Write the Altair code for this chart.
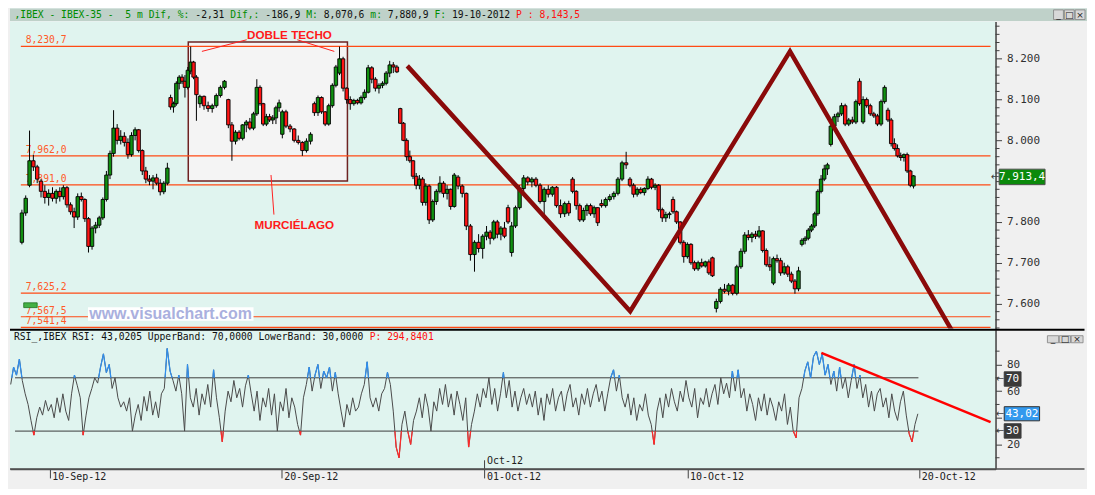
import altair as alt
import pandas as pd

# ---------------- data ----------------
DAY_INDEX = list(range(-1, 30))          # trading-day index (0 = 10-Sep-12)
BARS_PER_DAY = [9, 8, 8, 8, 8, 10, 7, 8, 9, 7, 8, 8, 8, 9, 8, 7, 8, 7, 7, 8, 7, 8, 8, 8, 7, 8, 8, 9, 8, 8, 9]
FIRST_SESSION_START = -1.2               # the first (partial) session shown starts a bit before day -1

OPEN = [7750, 7822, 7890, 7950, 7935, 7900, 7875, 7860, 7870, 7858,
        7875, 7862, 7884, 7842, 7825, 7812, 7862, 7855, 7808, 7740,
        7785, 7792, 7810, 7855, 7915, 7968, 8030, 8000, 8010, 7995,
        7965, 8012, 8026, 7975, 7925, 7905, 7900, 7908, 7895, 7874,
        7895, 8105, 8082, 8090, 8140, 8155, 8145, 8130, 8170, 8192,
        8155, 8090, 8108, 8085, 8078, 8085, 8110, 8130, 8100, 8038,
        7998, 8020, 8005, 8038, 8045, 8030, 8065, 8130, 8090, 8040,
        8058, 8050, 8055, 8080, 8015, 8070, 8035, 8028, 8000, 7995,
        7975, 7998, 8090, 8068, 8105, 8070, 8040, 8085, 8135, 8165,
        8200, 8128, 8100, 8090, 8098, 8092, 8105, 8118, 8178, 8150,
        8128, 8135, 8140, 8165, 8185, 8180, 8078, 8042, 8000, 7960,
        7950, 7912, 7890, 7905, 7848, 7888, 7805, 7850, 7875, 7895,
        7870, 7880, 7838, 7910, 7888, 7870, 7790, 7720, 7750, 7735,
        7765, 7775, 7760, 7800, 7770, 7785, 7835, 7725, 7790, 7835,
        7882, 7908, 7898, 7905, 7890, 7850, 7880, 7868, 7885, 7840,
        7820, 7845, 7905, 7875, 7840, 7805, 7828, 7840, 7820, 7835,
        7845, 7840, 7855, 7862, 7870, 7905, 7945, 7905, 7890, 7868,
        7880, 7872, 7882, 7905, 7885, 7890, 7830, 7810, 7818, 7855,
        7825, 7800, 7750, 7715, 7745, 7700, 7685, 7700, 7692, 7702,
        7712, 7588, 7605, 7635, 7630, 7645, 7625, 7690, 7728, 7768,
        7762, 7770, 7765, 7778, 7730, 7695, 7650, 7710, 7705, 7675,
        7690, 7672, 7655, 7636, 7745, 7755, 7760, 7780, 7790, 7820,
        7875, 7905, 7930, 7990, 8035, 8058, 8065, 8085, 8040, 8050,
        8045, 8145, 8045, 8100, 8085, 8065, 8060, 8040, 8095, 8074,
        8050, 7992, 7980, 7962, 7958, 7965, 7925, 7888]
HIGH = [7830, 7865, 8024, 7965, 7940, 7905, 7890, 7880, 7885, 7880,
        7885, 7890, 7888, 7848, 7835, 7870, 7872, 7858, 7812, 7790,
        7800, 7815, 7860, 7925, 7975, 8074, 8040, 8025, 8020, 8005,
        8020, 8032, 8028, 7978, 7935, 7915, 7915, 7918, 7905, 7900,
        7945, 8112, 8095, 8145, 8160, 8162, 8160, 8180, 8230, 8195,
        8160, 8112, 8110, 8095, 8090, 8115, 8135, 8148, 8102, 8045,
        8025, 8025, 8040, 8050, 8055, 8070, 8150, 8135, 8092, 8065,
        8065, 8062, 8085, 8100, 8075, 8075, 8040, 8030, 8012, 7998,
        8005, 8020, 8095, 8110, 8108, 8072, 8090, 8140, 8185, 8230,
        8205, 8130, 8108, 8102, 8102, 8110, 8125, 8185, 8182, 8155,
        8140, 8145, 8170, 8195, 8192, 8185, 8080, 8045, 8005, 7975,
        7952, 7920, 7915, 7910, 7895, 7892, 7855, 7880, 7912, 7900,
        7890, 7882, 7920, 7915, 7892, 7872, 7795, 7755, 7770, 7770,
        7790, 7780, 7805, 7805, 7790, 7800, 7842, 7800, 7840, 7890,
        7915, 7912, 7910, 7910, 7895, 7885, 7890, 7888, 7888, 7855,
        7850, 7852, 7910, 7878, 7845, 7835, 7845, 7845, 7840, 7836,
        7855, 7860, 7868, 7875, 7910, 7950, 7972, 7910, 7895, 7885,
        7885, 7885, 7912, 7908, 7895, 7893, 7835, 7825, 7825, 7862,
        7828, 7802, 7755, 7750, 7748, 7705, 7705, 7710, 7705, 7708,
        7715, 7612, 7640, 7648, 7650, 7648, 7695, 7735, 7775, 7780,
        7775, 7778, 7790, 7780, 7735, 7715, 7715, 7720, 7712, 7700,
        7695, 7678, 7660, 7690, 7760, 7765, 7785, 7795, 7825, 7880,
        7915, 7940, 7945, 8040, 8065, 8070, 8092, 8090, 8055, 8058,
        8100, 8152, 8108, 8105, 8090, 8070, 8065, 8100, 8135, 8080,
        8055, 8005, 7990, 7970, 7968, 7970, 7928, 7915]
LOW = [7745, 7815, 7885, 7925, 7895, 7860, 7845, 7840, 7850, 7845,
       7850, 7855, 7835, 7818, 7785, 7805, 7850, 7800, 7725, 7732,
       7772, 7785, 7805, 7850, 7905, 7960, 7990, 7990, 7985, 7955,
       7960, 8000, 7970, 7915, 7895, 7890, 7880, 7890, 7865, 7868,
       7890, 8075, 8068, 8085, 8125, 8138, 8105, 8125, 8162, 8150,
       8048, 8080, 8075, 8070, 8068, 8080, 8105, 8125, 8030, 7950,
       7990, 8000, 8000, 8020, 8025, 8025, 8060, 8085, 8035, 8035,
       8045, 8040, 8040, 8070, 8005, 8030, 8020, 7995, 7990, 7962,
       7970, 7990, 8060, 8060, 8065, 8035, 8036, 8080, 8130, 8160,
       8120, 8090, 8075, 8085, 8088, 8088, 8100, 8115, 8140, 8120,
       8115, 8128, 8135, 8155, 8165, 8165, 8040, 7998, 7950, 7945,
       7905, 7880, 7880, 7840, 7840, 7795, 7800, 7842, 7870, 7860,
       7855, 7830, 7835, 7880, 7860, 7780, 7705, 7678, 7725, 7710,
       7755, 7745, 7755, 7760, 7755, 7760, 7795, 7715, 7785, 7830,
       7875, 7890, 7885, 7885, 7845, 7815, 7860, 7862, 7835, 7810,
       7812, 7815, 7870, 7830, 7800, 7800, 7815, 7815, 7810, 7790,
       7835, 7835, 7850, 7855, 7865, 7900, 7930, 7885, 7860, 7862,
       7868, 7865, 7878, 7880, 7878, 7825, 7800, 7800, 7808, 7820,
       7795, 7745, 7700, 7710, 7695, 7680, 7680, 7688, 7688, 7670,
       7665, 7578, 7600, 7625, 7620, 7620, 7620, 7685, 7722, 7755,
       7750, 7758, 7760, 7725, 7690, 7680, 7645, 7700, 7668, 7670,
       7665, 7650, 7624, 7630, 7740, 7745, 7755, 7775, 7785, 7815,
       7870, 7900, 7915, 7985, 8028, 8045, 8060, 8035, 8035, 8040,
       8040, 8085, 8040, 8080, 8060, 8055, 8035, 8035, 8090, 8045,
       7985, 7975, 7958, 7950, 7948, 7920, 7885, 7882]
CLOSE = [7822, 7858, 7950, 7935, 7905, 7875, 7860, 7870, 7858, 7875,
         7862, 7884, 7842, 7825, 7812, 7862, 7855, 7808, 7740, 7785,
         7792, 7810, 7855, 7915, 7968, 8030, 8000, 8010, 7995, 7965,
         8012, 8026, 7975, 7925, 7905, 7900, 7908, 7895, 7874, 7895,
         7932, 8082, 8090, 8140, 8155, 8145, 8130, 8172, 8192, 8155,
         8112, 8108, 8085, 8078, 8085, 8110, 8130, 8145, 8038, 7998,
         8020, 8005, 8038, 8045, 8030, 8065, 8130, 8090, 8040, 8058,
         8050, 8055, 8080, 8092, 8070, 8035, 8028, 8000, 7995, 7975,
         7998, 8015, 8068, 8105, 8070, 8040, 8085, 8135, 8180, 8200,
         8128, 8100, 8090, 8098, 8092, 8105, 8118, 8178, 8150, 8128,
         8135, 8140, 8165, 8185, 8180, 8168, 8042, 8000, 7960, 7950,
         7912, 7890, 7905, 7848, 7888, 7805, 7850, 7875, 7895, 7870,
         7880, 7838, 7915, 7888, 7870, 7790, 7720, 7750, 7735, 7765,
         7775, 7760, 7800, 7770, 7785, 7765, 7800, 7790, 7835, 7882,
         7908, 7898, 7905, 7890, 7850, 7880, 7868, 7885, 7840, 7820,
         7845, 7822, 7875, 7840, 7805, 7828, 7840, 7820, 7835, 7798,
         7840, 7855, 7862, 7870, 7905, 7945, 7940, 7890, 7868, 7880,
         7872, 7882, 7905, 7885, 7890, 7830, 7810, 7818, 7820, 7825,
         7800, 7750, 7715, 7745, 7700, 7685, 7700, 7692, 7702, 7675,
         7668, 7605, 7635, 7630, 7645, 7625, 7690, 7728, 7768, 7762,
         7770, 7765, 7778, 7730, 7695, 7690, 7710, 7705, 7675, 7690,
         7672, 7655, 7636, 7680, 7755, 7760, 7780, 7790, 7820, 7875,
         7905, 7930, 7940, 8035, 8058, 8065, 8085, 8040, 8050, 8045,
         8095, 8090, 8100, 8085, 8065, 8060, 8040, 8095, 8130, 8050,
         7992, 7980, 7962, 7958, 7965, 7925, 7890, 7913]

# RSI(5 m), one value every 0.1 trading day starting at day -1.35
RSI_START_DAY = -1.35
RSI_STEP_DAY = 0.1
RSI = [65, 78, 72, 84, 68, 58, 50, 38, 27, 40,
       48, 42, 53, 45, 50, 40, 55, 44, 58, 45,
       38, 58, 72, 64, 55, 27, 42, 55, 62, 70,
       66, 78, 88, 74, 80, 62, 70, 55, 48, 52,
       45, 55, 30, 42, 50, 38, 56, 45, 60, 42,
       52, 40, 58, 62, 92, 75, 68, 60, 72, 58,
       30, 80, 55, 48, 62, 42, 58, 50, 65, 48,
       76, 55, 40, 22, 45, 60, 52, 68, 55, 62,
       48, 64, 72, 58, 45, 60, 38, 55, 48, 62,
       42, 58, 30, 52, 45, 62, 40, 55, 48, 35,
       27, 55, 65, 78, 60, 72, 80, 62, 75, 70,
       78, 60, 74, 58, 45, 33, 50, 42, 55, 45,
       48, 58, 65, 82, 55, 48, 55, 45, 58, 62,
       74, 65, 45, 18, 10, 35, 45, 30, 20, 38,
       45, 55, 40, 58, 48, 30, 52, 45, 62, 50,
       65, 48, 58, 42, 60, 50, 38, 55, 18, 35,
       45, 58, 48, 62, 55, 70, 50, 62, 45, 58,
       74, 55, 68, 48, 60, 45, 55, 62, 50, 58,
       48, 60, 42, 55, 38, 58, 50, 62, 45, 55,
       60, 45, 58, 65, 48, 55, 42, 58, 50, 62,
       48, 58, 65, 52, 60, 45, 58, 70, 76, 60,
       72, 55, 48, 58, 42, 55, 38, 50, 45, 58,
       42, 35, 20, 45, 55, 40, 58, 48, 62, 52,
       45, 60, 52, 68, 55, 48, 62, 40, 55, 50,
       62, 48, 58, 65, 50, 70, 58, 66, 55, 75,
       60, 76, 55, 62, 45, 58, 50, 38, 55, 45,
       58, 42, 55, 48, 38, 52, 45, 58, 35, 48,
       30, 25, 55, 62, 75, 82, 70, 86, 90, 80,
       88, 72, 80, 65, 75, 60, 78, 62, 70, 55,
       68, 80, 62, 72, 55, 65, 48, 60, 45, 58,
       62, 48, 55, 40, 58, 45, 38, 52, 60, 42,
       28, 22, 35, 43]

LEVELS = [8230.7, 7962.0, 7891.0, 7625.2, 7567.5, 7541.4]
LEVEL_TEXT = ["8,230,7", "7,962,0", "7,891,0", "7,625,2", "7,567,5", "7,541,4"]
PRICE_TICKS = [7600, 7700, 7800, 7900, 8000, 8100, 8200]
PRICE_MINOR = [v for v in range(7540, 8300, 20) if v % 100]
RSI_TICKS = [0, 20, 40, 60, 80]
RSI_MINOR = [10, 30, 50, 70, 90]
TICK_DAYS = [0, 8, 15, 22, 30]
TICK_LABELS = ["10-Sep-12", "20-Sep-12", "01-Oct-12", "10-Oct-12", "20-Oct-12"]
MONTH_DAY = 15
MONTH_TEXT = "Oct-12"
ZIGZAG_T = [12.30, 20.07, 25.64, 31.71]
ZIGZAG_P = [8182.7, 7581.1, 8218.2, 7481.9]
RSI_TREND_T = [26.62, 32.46]
RSI_TREND_V = [88.7, 36.7]
RSI_BANDS = [70, 30]
LAST_PRICE, LAST_PRICE_TEXT = 7913.4, "7.913,4"
LAST_RSI, LAST_RSI_TEXT = 43.02, "43,02"
HEAD_TEXT = ",IBEX - IBEX-35 -  5 m Dif, %: -2,31 Dif,: -186,9 M: 8,070,6 m: 7,880,9 F: 19-10-2012 P : 8,143,5"
RSI_HEAD_BLACK = "RSI_,IBEX RSI: 43,0205 UpperBand: 70,0000 LowerBand: 30,0000"
RSI_HEAD_RED = "P: 294,8401"

# ---------------- layout ----------------
SX = 1079 / 1095
SY = 479 / 495
W_PLOT = 1002 * SX
W_AXIS = 1079 - W_PLOT
H_HEAD = 13 * SY
H_TOP = 318 * SY
H_RSI = 144 * SY
H_XAX = 479 - H_HEAD - H_TOP - H_RSI

X_DOM = [-1.374, 32.63]
P_DOM = [7538.5, 8291.7]
R_DOM = [1.6, 106.0]
X_FAR = 35.7
MONO = "DejaVu Sans Mono"
FS = 9.7
GREEN, RED, BLACK = "#008c00", "#ff1010", "#101010"

T = []
for d, n in zip(DAY_INDEX, BARS_PER_DAY):
    start, span = (FIRST_SESSION_START, d + 1 - FIRST_SESSION_START) if d == DAY_INDEX[0] else (d, 1.0)
    for k in range(n):
        T.append(start + (k + 0.5) / n * span)

cdf = pd.DataFrame({"t": T, "o": OPEN, "h": HIGH, "l": LOW, "c": CLOSE})
cdf["h"] = cdf[["h", "o", "c"]].max(axis=1)
cdf["l"] = cdf[["l", "o", "c"]].min(axis=1)
cdf["col"] = ["#109010" if c >= o else "#ff1414" for o, c in zip(cdf.o, cdf.c)]

xs = alt.Scale(domain=X_DOM, nice=False, zero=False)
ps = alt.Scale(domain=P_DOM, nice=False, zero=False)
rs = alt.Scale(domain=R_DOM, nice=False, zero=False)


def xq(f, axis=None):
    return alt.X(f + ":Q", scale=xs, axis=axis)


def xr(f, axis=alt.Undefined):
    return alt.X(f + ":Q", scale=xs, axis=axis)


def pq(f, axis=alt.Undefined):
    return alt.Y(f + ":Q", scale=ps, axis=axis)


def rq(f, axis=alt.Undefined):
    return alt.Y(f + ":Q", scale=rs, axis=axis)


p_axis = alt.Axis(
    orient="right", title=None, values=PRICE_TICKS, grid=False,
    labelExpr="datum.value != 7900 ? replace(format(datum.value, ','), ',', '.') : ''",
    tickSize=6, tickColor="#404040", domainColor="#404040", domainWidth=1.5,
    labelFont=MONO, labelFontSize=11, labelColor="#303030", labelPadding=5,
    labelOverlap=False, labelFlush=False, labelBound=False, minExtent=W_AXIS, maxExtent=W_AXIS)

r_axis = alt.Axis(
    orient="right", title=None, values=RSI_TICKS, grid=False,
    labelExpr="datum.value != 40 ? '' + datum.value : ''",
    tickSize=6, tickColor="#404040", domainColor="#404040", domainWidth=1.5,
    labelFont=MONO, labelFontSize=11, labelColor="#303030", labelPadding=5,
    labelOverlap=False, labelFlush=False, labelBound=False, minExtent=W_AXIS, maxExtent=W_AXIS)

expr = "''"
for d, lab in reversed(list(zip(TICK_DAYS, TICK_LABELS))):
    expr = f"datum.value === {d} ? '{lab}' : ({expr})"
x_axis = alt.Axis(
    orient="bottom", title=None, values=TICK_DAYS, labelExpr=expr, grid=False,
    labelAlign="left", labelOffset=2, labelPadding=-6, tickSize=9,
    tickColor="#404040", domainColor="#505050", domainWidth=1.5,
    labelFont=MONO, labelFontSize=10, labelColor="#202020",
    labelOverlap=False, labelFlush=False, minExtent=H_XAX, maxExtent=H_XAX)

# ---------------- header panel ----------------
hx = alt.Scale(domain=[0, 1095], nice=False, zero=False)
hy = alt.Scale(domain=[0, 13], reverse=True, nice=False, zero=False)
runs = [(",IBEX - IBEX-35 -", GREEN), ("5 m Dif, %:", GREEN), ("-2,31", BLACK), ("Dif,:", GREEN),
        ("-186,9", BLACK), ("M:", GREEN), ("8,070,6", BLACK), ("m:", GREEN), ("7,880,9", BLACK),
        ("F:", GREEN), ("19-10-2012", BLACK), ("P : 8,143,5", RED)]
pos, rows = 0, []
for txt, col in runs:
    i = HEAD_TEXT.find(txt, pos)
    rows.append({"x": 4.6 + i * 5.93, "y": 6.8, "txt": txt, "col": col})
    pos = i + len(txt)
head_txt_df = pd.DataFrame(rows)
head_bg = alt.Chart(pd.DataFrame({"x": [0], "x2": [1095], "y": [0], "y2": [13]})).mark_rect(
    fill="#bfd1c9").encode(x=alt.X("x:Q", scale=hx, axis=None), x2="x2",
                           y=alt.Y("y:Q", scale=hy, axis=None), y2="y2")
head_txt = alt.Chart(head_txt_df).mark_text(align="left", baseline="middle", font=MONO, fontSize=FS).encode(
    x=alt.X("x:Q", scale=hx, axis=None), y=alt.Y("y:Q", scale=hy, axis=None), text="txt:N",
    color=alt.Color("col:N", scale=None))
btn_df = pd.DataFrame({"x": [1061, 1072, 1083], "x2": [1071, 1082, 1093], "y": [1.5] * 3, "y2": [11.5] * 3,
                       "xc": [1066, 1077, 1088], "yc": [6.5] * 3, "g": ["_", "□", "×"]})
head_btn = alt.Chart(btn_df).mark_rect(fill="#d8d8d8", stroke="#808080", strokeWidth=0.8).encode(
    x=alt.X("x:Q", scale=hx, axis=None), x2="x2", y=alt.Y("y:Q", scale=hy, axis=None), y2="y2")
head_btn_t = alt.Chart(btn_df).mark_text(fontSize=9, font="DejaVu Sans", color="#202020").encode(
    x=alt.X("xc:Q", scale=hx, axis=None), y=alt.Y("yc:Q", scale=hy, axis=None), text="g:N")
header = alt.layer(head_bg, head_txt, head_btn, head_btn_t).properties(width=1079, height=H_HEAD)

# ---------------- price panel ----------------
box = alt.Chart(pd.DataFrame({"t": [4.666], "t2": [10.214], "p": [8241.2], "p2": [7900.1]})).mark_rect(
    fill="#f4f4f4", stroke="#6e2222", strokeWidth=1.5).encode(x=xq("t"), x2="t2", y=pq("p", p_axis), y2="p2")
pminor = alt.Chart(pd.DataFrame({"p": PRICE_MINOR})).mark_rule(color="#404040", strokeWidth=1).encode(
    x=alt.value(W_PLOT), x2=alt.value(W_PLOT + 4), y=pq("p"))
lev_df = pd.DataFrame({"p": LEVELS, "lab": LEVEL_TEXT, "t": -1.17, "t2": X_DOM[1], "tl": -1.0})
lev = alt.Chart(lev_df).mark_rule(color="#ff4a14", strokeWidth=1.2).encode(x=xq("t"), x2="t2", y=pq("p"))
lev_txt = alt.Chart(lev_df).mark_text(align="left", baseline="bottom", dy=-1, font=MONO, fontSize=FS,
                                      color="#ff5a28").encode(x=xq("tl"), y=pq("p"), text="lab:N")
wm_df = pd.DataFrame({"t": [1.17], "t2": [6.94], "p": [7590.6], "p2": [7557.4], "tc": [4.05], "pc": [7574.0],
                      "txt": ["www.visualchart.com"]})
wm_bg = alt.Chart(wm_df).mark_rect(fill="white").encode(x=xq("t"), x2="t2", y=pq("p"), y2="p2")
wm_txt = alt.Chart(wm_df).mark_text(font="Liberation Sans", fontWeight="bold", fontSize=16, color="#aab0de").encode(
    x=xq("tc"), y=pq("pc"), text="txt:N")
grn = alt.Chart(pd.DataFrame({"t": [-1.07], "t2": [-0.60], "p": [7601.7], "p2": [7589.9]})).mark_rect(
    fill="#44b044", stroke="#207020", strokeWidth=0.8).encode(x=xq("t"), x2="t2", y=pq("p"), y2="p2")
ann_df = pd.DataFrame({"t": [5.141, 8.466, 7.550], "t2": [6.702, 9.756, 7.652],
                       "p": [8218.2, 8246.7, 7915.1], "p2": [8246.7, 8218.2, 7818.0]})
ann = alt.Chart(ann_df).mark_rule(color="#ff2020", strokeWidth=1).encode(x=xq("t"), x2="t2", y=pq("p"), y2="p2")
ann_txt = alt.Chart(pd.DataFrame({"t": [8.195, 8.364], "p": [8257.3, 7791.9],
                                  "txt": ["DOBLE TECHO", "MURCIÉLAGO"]})).mark_text(
    font="Liberation Sans", fontWeight="bold", fontSize=11.7, color="#ff1a1a").encode(
    x=xq("t"), y=pq("p"), text="txt:N")
wick = alt.Chart(cdf).mark_rule(color="black", strokeWidth=1).encode(x=xq("t"), y=pq("l"), y2="h")
body = alt.Chart(cdf).mark_bar(width=3.4, stroke="black", strokeWidth=0.9).encode(
    x=xq("t"), y=pq("o"), y2="c", color=alt.Color("col:N", scale=None))
zz = alt.Chart(pd.DataFrame({"t": ZIGZAG_T, "p": ZIGZAG_P, "o": range(len(ZIGZAG_T))})).mark_line(
    color="#8a0a0a", strokeWidth=4.5, clip=True).encode(x=xq("t"), y=pq("p"), order="o:Q")
lp_df = pd.DataFrame({"t": [32.93], "t2": [34.53], "p": [LAST_PRICE + 16], "p2": [LAST_PRICE - 22],
                      "tc": [33.73], "pc": [LAST_PRICE - 3], "ta": [32.78], "txt": [LAST_PRICE_TEXT]})
lp_box = alt.Chart(lp_df).mark_rect(fill="#0b8a0b", stroke="#505050", strokeWidth=1).encode(
    x=xq("t"), x2="t2", y=pq("p"), y2="p2")
lp_txt = alt.Chart(lp_df).mark_text(font=MONO, fontSize=11, color="white").encode(
    x=xq("tc"), y=pq("pc"), text="txt:N")
lp_arr = alt.Chart(lp_df).mark_text(font="DejaVu Sans", fontSize=10, color="#404040").encode(
    x=xq("ta"), y=pq("pc"), text=alt.value("←"))
price = alt.layer(box, pminor, lev, lev_txt, wm_bg, wm_txt, grn, ann, ann_txt, wick, body, zz,
                  lp_box, lp_txt, lp_arr).properties(width=W_PLOT, height=H_TOP)

# ---------------- RSI panel ----------------
RT = [RSI_START_DAY + i * RSI_STEP_DAY for i in range(len(RSI))]
rdf = pd.DataFrame({"t": RT, "v": RSI})
segs = []
for i in range(len(RT) - 1):
    t1, v1, t2, v2 = RT[i], RSI[i], RT[i + 1], RSI[i + 1]
    for thr, col, up in [(70, "#2f8ff0", True), (30, "#ff2a2a", False)]:
        a1 = v1 > thr if up else v1 < thr
        a2 = v2 > thr if up else v2 < thr
        if not (a1 or a2):
            continue
        if a1 and a2:
            segs.append((t1, v1, t2, v2, col))
        else:
            tc = t1 + (thr - v1) / (v2 - v1) * (t2 - t1)
            segs.append((t1, v1, tc, thr, col) if a1 else (tc, thr, t2, v2, col))
sdf = pd.DataFrame(segs, columns=["t", "v", "t2", "v2", "col"])

rhead = alt.Chart(pd.DataFrame({"t": [-1.239, 11.036], "v": [100.6, 100.6],
                                "txt": [RSI_HEAD_BLACK, RSI_HEAD_RED],
                                "col": [BLACK, RED]})).mark_text(
    align="left", baseline="middle", font=MONO, fontSize=FS).encode(
    x=xr("t"), y=rq("v"), text="txt:N", color=alt.Color("col:N", scale=None))
rminor = alt.Chart(pd.DataFrame({"v": RSI_MINOR})).mark_rule(color="#404040", strokeWidth=1).encode(
    x=alt.value(W_PLOT), x2=alt.value(W_PLOT + 4), y=rq("v"))
bands = alt.Chart(pd.DataFrame({"v": RSI_BANDS, "t": -1.2, "t2": RT[-1] + 0.02})).mark_rule(
    color="#3c3c3c", strokeWidth=1).encode(x=xr("t"), x2="t2", y=rq("v"))
rline = alt.Chart(rdf).mark_line(color="#4a4a4a", strokeWidth=1).encode(
    x=xr("t", x_axis), y=rq("v", r_axis))
rseg = alt.Chart(sdf).mark_rule(strokeWidth=1.2).encode(
    x=xr("t"), x2="t2", y=rq("v"), y2="v2", color=alt.Color("col:N", scale=None))
rtrend = alt.Chart(pd.DataFrame({"t": [RSI_TREND_T[0]], "t2": [RSI_TREND_T[1]], "v": [RSI_TREND_V[0]],
                                 "v2": [RSI_TREND_V[1]]})).mark_rule(color="#ff0000", strokeWidth=2.5).encode(
    x=xr("t"), x2="t2", y=rq("v"), y2="v2")
mm_df = pd.DataFrame({"t": [MONTH_DAY], "tt": [MONTH_DAY + 0.08], "v": [R_DOM[0]], "v2": [8.1], "vt": [7.4],
                      "txt": [MONTH_TEXT]})
mrule = alt.Chart(mm_df).mark_rule(color="#404040", strokeWidth=1).encode(x=xr("t"), y=rq("v"), y2="v2")
mtext = alt.Chart(mm_df).mark_text(align="left", baseline="middle", font=MONO, fontSize=10,
                                   color="#202020").encode(x=xr("tt"), y=rq("vt"), text="txt:N")
sep = alt.Chart(pd.DataFrame({"t": [X_DOM[0]], "t2": [X_FAR], "v": [R_DOM[1]]})).mark_rule(
    color="#000000", strokeWidth=2).encode(x=xr("t"), x2="t2", y=rq("v"))
bot = alt.Chart(pd.DataFrame({"t": [X_DOM[0]], "t2": [X_FAR], "v": [R_DOM[0]]})).mark_rule(
    color="#505050", strokeWidth=1.5).encode(x=xr("t"), x2="t2", y=rq("v"))
rb_df = pd.DataFrame({"t": [32.93, 32.93, 32.93], "t2": [33.51, 34.15, 33.51],
                      "v": [74.5, LAST_RSI + 5.3, 35.5], "v2": [63.7, LAST_RSI - 5.3, 24.7],
                      "tc": [33.22, 33.54, 33.22], "vc": [69.0, LAST_RSI, 30.0], "ta": [32.78] * 3,
                      "txt": ["70", LAST_RSI_TEXT, "30"], "fill": ["#3a3a3a", "#3399ee", "#3a3a3a"],
                      "stroke": ["#3a3a3a", "#303030", "#3a3a3a"]})
rb_box = alt.Chart(rb_df).mark_rect(strokeWidth=1).encode(
    x=xr("t"), x2="t2", y=rq("v"), y2="v2", color=alt.Color("fill:N", scale=None),
    stroke=alt.Stroke("stroke:N", scale=None))
rb_txt = alt.Chart(rb_df).mark_text(font=MONO, fontSize=11, color="white").encode(
    x=xr("tc"), y=rq("vc"), text="txt:N")
rb_arr = alt.Chart(rb_df).mark_text(font="DejaVu Sans", fontSize=10, color="#404040").encode(
    x=xr("ta"), y=rq("vc"), text=alt.value("←"))
rbtn_df = pd.DataFrame({"t": [34.42, 34.83, 35.24], "t2": [34.81, 35.22, 35.65], "v": [101.6] * 3,
                        "v2": [96.3] * 3, "tc": [34.615, 35.025, 35.445], "vc": [99.0] * 3,
                        "g": ["_", "□", "×"]})
rbtn = alt.Chart(rbtn_df).mark_rect(fill="#d8d8d8", stroke="#808080", strokeWidth=0.8).encode(
    x=xr("t"), x2="t2", y=rq("v"), y2="v2")
rbtn_t = alt.Chart(rbtn_df).mark_text(fontSize=9, font="DejaVu Sans", color="#202020").encode(
    x=xr("tc"), y=rq("vc"), text="g:N")
rsi = alt.layer(rhead, rminor, bands, rline, rseg, rtrend, mrule, mtext, sep, bot, rb_box, rb_txt, rb_arr,
                rbtn, rbtn_t).properties(width=W_PLOT, height=H_RSI)

chart = alt.vconcat(header, price, rsi, spacing=0).properties(
    padding=0, background="#f0f0f0").configure_view(fill="#e0f4ef", strokeWidth=0).configure_axis(
    labelOverlap=False)

chart.save("out.html", embed_options={"renderer": "svg", "actions": False})
